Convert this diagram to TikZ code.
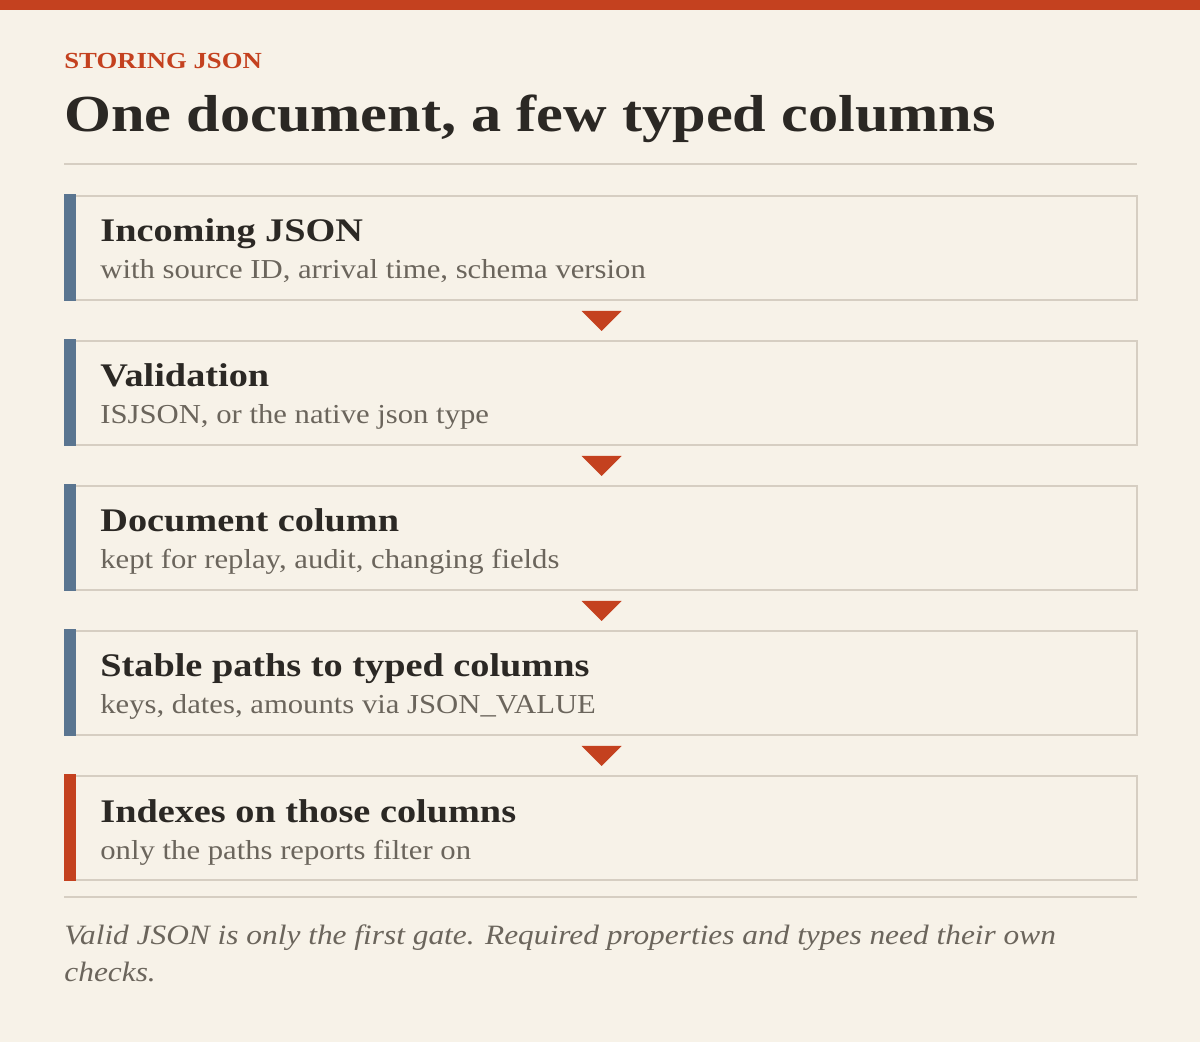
\documentclass[tikz,border=0pt]{standalone}
\usepackage{fontspec}
\setmainfont[FakeStretch=1.12, BoldFeatures={FakeStretch=1.16}]{Liberation Serif}
\usetikzlibrary{calc}
\definecolor{paper}{HTML}{F7F2E8}
\definecolor{rust}{HTML}{C4411F}
\definecolor{slate}{HTML}{5A7590}
\definecolor{rulegray}{HTML}{D6CEC2}
\definecolor{ink}{HTML}{2B2824}
\definecolor{muted}{HTML}{6B655C}
\tikzset{
  stage/.style={draw=rulegray, line width=1pt, minimum width=535.5pt, minimum height=52pt, anchor=north west, inner sep=0pt},
  head/.style={anchor=base west, inner sep=0pt, text=ink, font=\fontsize{16.5}{19}\selectfont\bfseries},
  sub/.style={anchor=base west, inner sep=0pt, text=muted, font=\fontsize{13.7}{16}\selectfont},
}

\begin{document}
\begin{tikzpicture}[x=0.5pt,y=-0.5pt]
\fill[paper] (0,0) rectangle (1200,1042);
\fill[rust] (0,0) rectangle (1200,10);
\node[anchor=base west, inner sep=0pt, text=rust, font=\fontsize{11.5}{14}\selectfont\bfseries] (kicker) at (64,69) {STORING JSON};
\node[anchor=base west, inner sep=0pt, text=ink, font=\fontsize{26}{30}\selectfont\bfseries] (title) at (64,132) {One document, a few typed columns};
\draw[rulegray, line width=1pt] (64,164) -- (1137,164);

\node[stage] (incoming) at (65,195) {};
\node[stage] (validation) at (65,340) {};
\node[stage] (doccol) at (65,485) {};
\node[stage] (paths) at (65,630) {};
\node[stage] (indexes) at (65,775) {};

\fill[slate] (64,194) rectangle (76,301);
\fill[slate] (64,339) rectangle (76,446);
\fill[slate] (64,484) rectangle (76,591);
\fill[slate] (64,629) rectangle (76,736);
\fill[rust] (64,774) rectangle (76,881);

\node[head] (incomingT) at (100,242) {Incoming JSON};
\node[sub] (incomingS) at (100,279) {with source ID, arrival time, schema version};
\node[head] (validationT) at (100,387) {Validation};
\node[sub] (validationS) at (100,424) {ISJSON, or the native json type};
\node[head] (doccolT) at (100,532) {Document column};
\node[sub] (doccolS) at (100,569) {kept for replay, audit, changing fields};
\node[head] (pathsT) at (100,677) {Stable paths to typed columns};
\node[sub] (pathsS) at (100,714) {keys, dates, amounts via JSON\_VALUE};
\node[head] (indexesT) at (100,822) {Indexes on those columns};
\node[sub] (indexesS) at (100,859) {only the paths reports filter on};

\foreach \a in {incoming,validation,doccol,paths}
  \fill[rust] ($(\a.south)+(-20,10)$) -- ($(\a.south)+(20,10)$) -- ($(\a.south)+(0,30)$) -- cycle;

\draw[rulegray, line width=1pt] (64,897) -- (1137,897);
\node[anchor=base west, inner sep=0pt, align=left, text=muted, font=\fontsize{14}{18.5}\selectfont\itshape] (note) at (64,981) {Valid JSON is only the first gate. Required properties and types need their own\\checks.};
\end{tikzpicture}
\end{document}
